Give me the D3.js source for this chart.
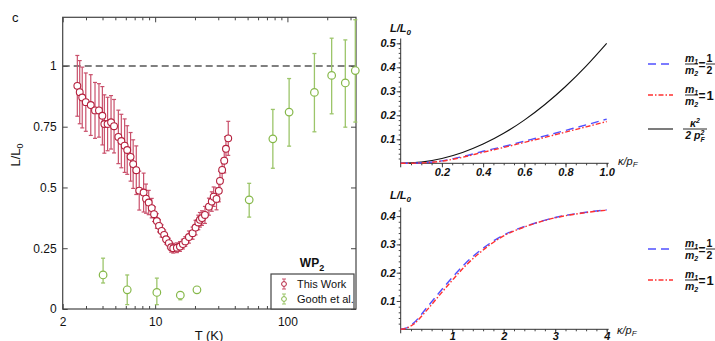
<!DOCTYPE html>
<html>
<head>
<meta charset="utf-8">
<script src="https://cdn.jsdelivr.net/npm/d3@7"></script>
<style>
body { margin: 0; background: #fff; }
text { font-family: "Liberation Sans", Arial, sans-serif; }
</style>
</head>
<body>
<div id="visualContainer"></div>
<script>
// panel c, left: L/L0 vs T
var workT = [2.58, 2.69, 2.81, 2.99, 3.26, 3.51, 3.76, 3.99, 4.13, 4.37, 4.64, 4.89, 5.27, 5.55, 5.88, 6.15, 6.52, 6.82, 7.20, 7.58, 8.18, 8.53, 8.94, 9.42, 9.81, 10.3, 10.7, 11.2, 11.7, 12.1, 12.7, 13.2, 13.7, 14.6, 15.4, 16.2, 16.9, 18.0, 19.2, 20.2, 21.2, 21.8, 22.6, 23.8, 25.5, 26.8, 27.7, 29.1, 30.3, 30.9, 32.1, 33.3, 34.3, 35.7];
var workL = [0.918, 0.892, 0.870, 0.851, 0.839, 0.817, 0.817, 0.795, 0.761, 0.761, 0.768, 0.752, 0.708, 0.691, 0.672, 0.654, 0.626, 0.596, 0.571, 0.487, 0.479, 0.454, 0.438, 0.415, 0.390, 0.362, 0.342, 0.321, 0.305, 0.287, 0.271, 0.254, 0.250, 0.252, 0.257, 0.267, 0.278, 0.296, 0.312, 0.335, 0.356, 0.367, 0.374, 0.387, 0.421, 0.442, 0.462, 0.453, 0.486, 0.527, 0.572, 0.610, 0.659, 0.702];
var workErr = [0.125, 0.13, 0.125, 0.12, 0.125, 0.115, 0.11, 0.12, 0.12, 0.11, 0.11, 0.11, 0.11, 0.11, 0.11, 0.1, 0.1, 0.1, 0.1, 0.08, 0.08, 0.06, 0.05, 0.04, 0.03, 0.03, 0.025, 0.025, 0.02, 0.02, 0.02, 0.02, 0.02, 0.02, 0.02, 0.02, 0.02, 0.025, 0.025, 0.03, 0.03, 0.03, 0.03, 0.035, 0.035, 0.04, 0.04, 0.045, 0.045, 0.04, 0.04, 0.05, 0.05, 0.07];

var goothT = [4.04, 6.15, 10.3, 15.5, 20.7, 51.4, 77.6, 103, 160, 216, 274, 326];
var goothL = [0.140, 0.079, 0.068, 0.057, 0.079, 0.449, 0.700, 0.810, 0.891, 0.961, 0.930, 0.981];
var goothLo = [0.107, 0.018, 0.018, 0.038, 0.072, 0.378, 0.579, 0.670, 0.729, 0.803, 0.748, 0.769];
var goothHi = [0.209, 0.140, 0.127, 0.066, 0.086, 0.517, 0.821, 0.948, 1.051, 1.114, 1.107, 1.190];

var tMajor = [2, 10, 100];
var tMinor = [3, 4, 5, 6, 7, 8, 9, 20, 30, 40, 50, 60, 70, 80, 90, 200, 300];
var lTicks = [0, 0.25, 0.5, 0.75, 1];

// right panels: L/L0 vs kappa/pF
var kappaTop = [0, 0.1, 0.2, 0.3, 0.4, 0.5, 0.6, 0.7, 0.8, 0.9, 1.0];
var blackTop = [0, 0.005, 0.02, 0.045, 0.08, 0.125, 0.18, 0.245, 0.32, 0.405, 0.5];
var blueTop = [0, 0.002, 0.01, 0.028, 0.05, 0.07, 0.092, 0.114, 0.137, 0.16, 0.184];
var redTop = [0, 0.0015, 0.009, 0.025, 0.046, 0.066, 0.087, 0.108, 0.13, 0.152, 0.174];

var kappaBot = [0, 0.1, 0.25, 0.5, 0.75, 1, 1.25, 1.5, 1.75, 2, 2.25, 2.5, 2.75, 3, 3.25, 3.5, 3.75, 4];
var blueBot = [0, 0.004, 0.022, 0.075, 0.13, 0.183, 0.232, 0.272, 0.306, 0.333, 0.353, 0.369, 0.383, 0.395, 0.404, 0.411, 0.417, 0.422];
var redBot = [0, 0.003, 0.018, 0.066, 0.12, 0.173, 0.223, 0.265, 0.301, 0.33, 0.351, 0.368, 0.382, 0.394, 0.403, 0.41, 0.416, 0.421];

var topXTicks = [0.2, 0.4, 0.6, 0.8, 1.0];
var topYTicks = [0.1, 0.2, 0.3, 0.4, 0.5];
var botXTicks = [1, 2, 3, 4];
var botYTicks = [0.1, 0.2, 0.3, 0.4];

var red = "#b5213e";
var redBar = "#c9506b";
var green = "#86b84a";
var greenBar = "#9cc56a";

var svgCanvas = d3.select("#visualContainer")
    .append("svg")
    .attr("width", 715)
    .attr("height", 341);

svgCanvas.append("rect").attr("width", 715).attr("height", 341).attr("fill", "#fff");

// ---------- left panel ----------
var xScale = d3.scaleLog().domain([2, 330]).range([62.7, 356]);
var yScale = d3.scaleLinear().domain([0, 1.2]).range([309, 17.3]);

var left = svgCanvas.append("g");

function styleAxis(g, size) {
    g.select(".domain").remove();
    g.selectAll(".tick line").attr("stroke", "#444");
    g.selectAll("text").attr("font-size", size).attr("fill", "#111")
        .attr("font-family", "Liberation Sans, Arial, sans-serif");
}

left.append("g").attr("transform", "translate(0,309)")
    .call(d3.axisBottom(xScale).tickValues(tMinor).tickSize(-3).tickFormat(""))
    .call(styleAxis, 12);
left.append("g").attr("transform", "translate(0,309)")
    .call(d3.axisBottom(xScale).tickValues(tMajor).tickSize(-5).tickPadding(8).tickFormat(d3.format("d")))
    .call(styleAxis, 12);
left.append("g").attr("transform", "translate(0,17.3)")
    .call(d3.axisTop(xScale).tickValues(tMinor).tickSize(-3).tickFormat(""))
    .call(styleAxis, 12);
left.append("g").attr("transform", "translate(0,17.3)")
    .call(d3.axisTop(xScale).tickValues(tMajor).tickSize(-5).tickFormat(""))
    .call(styleAxis, 12);
left.append("g").attr("transform", "translate(62.7,0)")
    .call(d3.axisLeft(yScale).tickValues(lTicks).tickSize(-5).tickPadding(6).tickFormat(function(d) { return d; }))
    .call(styleAxis, 12);
left.append("g").attr("transform", "translate(356,0)")
    .call(d3.axisRight(yScale).tickValues(lTicks).tickSize(-5).tickFormat(""))
    .call(styleAxis, 12);

left.append("rect")
    .attr("x", 62.7).attr("y", 17.3)
    .attr("width", 356 - 62.7).attr("height", 309 - 17.3)
    .attr("fill", "none").attr("stroke", "#444").attr("stroke-width", 1.2);

left.append("line")
    .attr("x1", 62.7).attr("x2", 356)
    .attr("y1", yScale(1)).attr("y2", yScale(1))
    .attr("stroke", "#555").attr("stroke-width", 1.5).attr("stroke-dasharray", "7,4");

var workData = workT.map(function(t, i) { return { t: t, l: workL[i], lo: workL[i] - workErr[i], hi: workL[i] + workErr[i] }; });
var goothData = goothT.map(function(t, i) { return { t: t, l: goothL[i], lo: goothLo[i], hi: goothHi[i] }; });

function drawBars(data, color, width) {
    var g = left.append("g").attr("stroke", color).attr("stroke-width", width);
    g.selectAll("line.v").data(data).enter().append("line")
        .attr("x1", function(d) { return xScale(d.t); })
        .attr("x2", function(d) { return xScale(d.t); })
        .attr("y1", function(d) { return yScale(d.lo); })
        .attr("y2", function(d) { return yScale(d.hi); });
    g.selectAll("line.ct").data(data).enter().append("line")
        .attr("x1", function(d) { return xScale(d.t) - 2; })
        .attr("x2", function(d) { return xScale(d.t) + 2; })
        .attr("y1", function(d) { return yScale(d.hi); })
        .attr("y2", function(d) { return yScale(d.hi); });
    g.selectAll("line.cb").data(data).enter().append("line")
        .attr("x1", function(d) { return xScale(d.t) - 2; })
        .attr("x2", function(d) { return xScale(d.t) + 2; })
        .attr("y1", function(d) { return yScale(d.lo); })
        .attr("y2", function(d) { return yScale(d.lo); });
}

drawBars(goothData, greenBar, 1.3);
drawBars(workData, redBar, 1.2);

left.selectAll("circle.gooth").data(goothData).enter().append("circle")
    .attr("cx", function(d) { return xScale(d.t); })
    .attr("cy", function(d) { return yScale(d.l); })
    .attr("r", 3.8)
    .attr("fill", "#fff").attr("stroke", green).attr("stroke-width", 1.2);

left.selectAll("circle.work").data(workData).enter().append("circle")
    .attr("cx", function(d) { return xScale(d.t); })
    .attr("cy", function(d) { return yScale(d.l); })
    .attr("r", 3.4)
    .attr("fill", "#fff").attr("stroke", red).attr("stroke-width", 1.1);

// legend
var lg = left.append("g");
lg.append("rect").attr("x", 271).attr("y", 274).attr("width", 83).attr("height", 35)
    .attr("fill", "#fff").attr("stroke", "#444").attr("stroke-width", 1.2);
var wp = lg.append("text").attr("x", 312).attr("y", 267).attr("text-anchor", "middle")
    .attr("font-size", 12).attr("font-weight", "bold").attr("fill", "#111");
wp.append("tspan").text("WP");
wp.append("tspan").attr("font-size", 9).attr("dy", 4).text("2");

[[red, redBar, "This Work", 284], [green, greenBar, "Gooth et al.", 299]].forEach(function(it) {
    lg.append("line").attr("x1", 284).attr("x2", 284).attr("y1", it[3] - 5).attr("y2", it[3] + 5)
        .attr("stroke", it[1]);
    lg.append("line").attr("x1", 282).attr("x2", 286).attr("y1", it[3] - 5).attr("y2", it[3] - 5).attr("stroke", it[1]);
    lg.append("line").attr("x1", 282).attr("x2", 286).attr("y1", it[3] + 5).attr("y2", it[3] + 5).attr("stroke", it[1]);
    lg.append("circle").attr("cx", 284).attr("cy", it[3]).attr("r", 2.4)
        .attr("fill", "#fff").attr("stroke", it[0]);
    lg.append("text").attr("x", 297).attr("y", it[3] + 4).attr("font-size", 11).attr("fill", "#111").text(it[2]);
});

svgCanvas.append("text").attr("x", 12).attr("y", 22).attr("font-size", 13).attr("fill", "#111").text("c");

svgCanvas.append("text").attr("x", 209).attr("y", 339.5).attr("text-anchor", "middle")
    .attr("font-size", 13).attr("fill", "#111").text("T (K)");

var yl = svgCanvas.append("text").attr("transform", "translate(20,155) rotate(-90)")
    .attr("text-anchor", "middle").attr("font-size", 13).attr("fill", "#111");
yl.append("tspan").text("L/L");
yl.append("tspan").attr("font-size", 9).attr("dy", 3).text("0");

// ---------- right panels ----------
function drawPanel(xs, ys, xt, yt, xMinor, yMinor, series, yLabelY, kLabelX, kLabelY, xPad) {
    var g = svgCanvas.append("g");
    var x0 = xs.range()[0], y0 = ys.range()[0];
    g.append("g").attr("transform", "translate(0," + y0 + ")")
        .call(d3.axisBottom(xs).tickValues(xMinor).tickSize(2).tickFormat(""))
        .call(styleAxis, 11);
    g.append("g").attr("transform", "translate(" + x0 + ",0)")
        .call(d3.axisLeft(ys).tickValues(yMinor).tickSize(2).tickFormat(""))
        .call(styleAxis, 11);
    g.append("g").attr("transform", "translate(0," + y0 + ")")
        .call(d3.axisBottom(xs).tickValues(xt).tickSize(4).tickPadding(xPad)
            .tickFormat(function(d) { return xt[0] < 1 ? d3.format(".1f")(d) : d; }))
        .call(styleAxis, 11);
    g.append("g").attr("transform", "translate(" + x0 + ",0)")
        .call(d3.axisLeft(ys).tickValues(yt).tickSize(4).tickPadding(1).tickFormat(d3.format(".1f")))
        .call(styleAxis, 11);
    g.selectAll("text").attr("font-weight", "bold").attr("font-style", "italic");

    g.append("line").attr("x1", x0).attr("x2", xs.range()[1] + 2).attr("y1", y0).attr("y2", y0)
        .attr("stroke", "#333").attr("stroke-width", 1);
    g.append("line").attr("x1", x0).attr("x2", x0).attr("y1", y0 + 4).attr("y2", ys.range()[1])
        .attr("stroke", "#333").attr("stroke-width", 1);

    var line = d3.line()
        .x(function(d) { return xs(d[0]); })
        .y(function(d) { return ys(d[1]); })
        .curve(d3.curveMonotoneX);

    series.forEach(function(s) {
        g.append("path")
            .datum(s.k.map(function(k, i) { return [k, s.v[i]]; }))
            .attr("d", line)
            .attr("fill", "none")
            .attr("stroke", s.color)
            .attr("stroke-width", s.width)
            .attr("stroke-dasharray", s.dash);
    });

    var t = g.append("text").attr("x", 390).attr("y", yLabelY)
        .attr("font-size", 11).attr("font-weight", "bold").attr("font-style", "italic").attr("fill", "#111");
    t.append("tspan").text("L/L");
    t.append("tspan").attr("font-size", 8).attr("dy", 3).text("0");

    var k = g.append("text").attr("x", kLabelX).attr("y", kLabelY)
        .attr("font-size", 11).attr("font-style", "italic").attr("fill", "#111");
    k.append("tspan").text("\u03ba/p");
    k.append("tspan").attr("font-size", 8).attr("dy", 2).text("F");
}

var blueStyle = { color: "#5050ff", width: 1.4, dash: "8,5" };
var redStyle = { color: "#ff3030", width: 1.4, dash: "5,2,1.5,2" };

var xTop = d3.scaleLinear().domain([0, 1]).range([400.7, 606.7]);
var yTop = d3.scaleLinear().domain([0, 0.52]).range([163.3, 38.5]);
drawPanel(xTop, yTop, topXTicks, topYTicks, d3.range(0.05, 1.01, 0.05), d3.range(0.02, 0.52, 0.02), [
    { k: kappaTop, v: blackTop, color: "#111", width: 1.1, dash: null },
    { k: kappaTop, v: blueTop, color: blueStyle.color, width: blueStyle.width, dash: blueStyle.dash },
    { k: kappaTop, v: redTop, color: redStyle.color, width: redStyle.width, dash: redStyle.dash }
], 32, 618, 165, 1);

var xBot = d3.scaleLinear().domain([0, 4]).range([400.7, 606.7]);
var yBot = d3.scaleLinear().domain([0, 0.43]).range([329.3, 207.6]);
drawPanel(xBot, yBot, botXTicks, botYTicks, d3.range(0.2, 4.01, 0.2), d3.range(0.02, 0.43, 0.02), [
    { k: kappaBot, v: blueBot, color: blueStyle.color, width: blueStyle.width, dash: blueStyle.dash },
    { k: kappaBot, v: redBot, color: redStyle.color, width: redStyle.width, dash: redStyle.dash }
], 199, 617, 334, -1.5);

// legends with little fractions
function frac(g, cx, y, num, den, size) {
    var n = g.append("text").attr("x", cx).attr("y", y - 2.5).attr("text-anchor", "middle")
        .attr("font-size", size).attr("font-style", "italic").attr("font-weight", "bold").attr("fill", "#111");
    num(n);
    var d = g.append("text").attr("x", cx).attr("y", y + 10).attr("text-anchor", "middle")
        .attr("font-size", size).attr("font-style", "italic").attr("font-weight", "bold").attr("fill", "#111");
    den(d);
    return g;
}

function mSub(i) {
    return function(t) {
        t.append("tspan").text("m");
        t.append("tspan").attr("font-size", 7).attr("dy", 2).text(i);
    };
}

function massEntry(y, style, half) {
    var g = svgCanvas.append("g");
    g.append("line").attr("x1", 648).attr("x2", 673).attr("y1", y).attr("y2", y)
        .attr("stroke", style.color).attr("stroke-width", style.width).attr("stroke-dasharray", style.dash);
    frac(g, 691.5, y, mSub("1"), mSub("2"), 10.5);
    g.append("line").attr("x1", 685).attr("x2", 698).attr("y1", y).attr("y2", y).attr("stroke", "#111").attr("stroke-width", 0.9);
    g.append("text").attr("x", 698.5).attr("y", y + 4.5).attr("font-size", 12).attr("font-weight", "bold").attr("fill", "#111").text("=");
    if (half) {
        g.append("text").attr("x", 706.5).attr("y", y - 2.5).attr("font-size", 10.5).attr("font-weight", "bold").attr("fill", "#111").text("1");
        g.append("text").attr("x", 706.5).attr("y", y + 10).attr("font-size", 10.5).attr("font-weight", "bold").attr("fill", "#111").text("2");
        g.append("line").attr("x1", 706).attr("x2", 715).attr("y1", y).attr("y2", y).attr("stroke", "#111").attr("stroke-width", 0.9);
    } else {
        g.append("text").attr("x", 706.5).attr("y", y + 5).attr("font-size", 13).attr("font-weight", "bold").attr("fill", "#111").text("1");
    }
}

massEntry(64, blueStyle, true);
massEntry(95, redStyle, false);
massEntry(249, blueStyle, true);
massEntry(280, redStyle, false);

var blk = svgCanvas.append("g");
blk.append("line").attr("x1", 648).attr("x2", 673).attr("y1", 129).attr("y2", 129).attr("stroke", "#111").attr("stroke-width", 1.1);
frac(blk, 695, 129, function(t) {
    t.append("tspan").text("\u03ba");
    t.append("tspan").attr("font-size", 7).attr("dy", -4).text("2");
}, function(t) {
    t.append("tspan").text("2 p");
    t.append("tspan").attr("font-size", 7).attr("dy", -4).text("2");
    t.append("tspan").attr("font-size", 7).attr("dx", -4).attr("dy", 7).text("F");
}, 10.5);
blk.append("line").attr("x1", 683).attr("x2", 707).attr("y1", 129).attr("y2", 129).attr("stroke", "#111").attr("stroke-width", 0.9);
</script>
</body>
</html>
